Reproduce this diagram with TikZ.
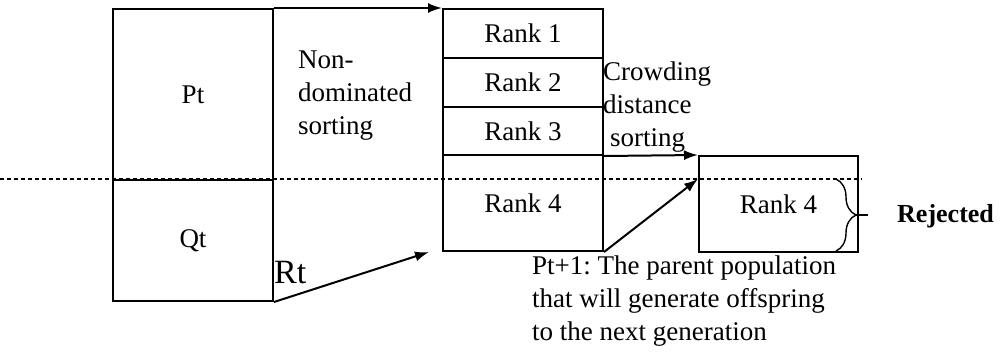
\documentclass[tikz,border=0pt]{standalone}
\usepackage{fontspec}
\setmainfont{Liberation Serif}
\usetikzlibrary{arrows.meta,decorations.pathreplacing}
\frenchspacing
\begin{document}
\begin{tikzpicture}[x=1pt,y=-1pt,
  box/.style={draw,line width=2pt,inner sep=0pt,anchor=north west,font=\fontsize{27}{33}\selectfont},
  lbl/.style={inner sep=0pt,anchor=base west,align=left,font=\fontsize{27}{33}\selectfont},
  conn/.style={line width=2pt,-{Latex[length=14pt,width=10pt]}},
  dotline/.style={line width=1.4pt,dash pattern=on 3.5pt off 3.5pt}]
\useasboundingbox (0,0) rectangle (1007,354);
% dotted separation line
\draw[dotline] (0,179) -- (862,179);
% R_t = P_t + Q_t
\node[box,minimum width=160pt,minimum height=171pt] (P) at (112,8) {Pt};
\node[box,minimum width=160pt,minimum height=121pt] (Q) at (112,179) {Qt};
% ranks
\node[box,minimum width=160pt,minimum height=49pt] (R1) at (442,8) {Rank 1};
\node[box,minimum width=160pt,minimum height=49pt] (R2) at (442,57) {Rank 2};
\node[box,minimum width=160pt,minimum height=48pt] (R3) at (442,106) {Rank 3};
\node[box,minimum width=160pt,minimum height=96pt] (R4) at (442,154) {Rank 4};
% next population part
\node[box,minimum width=159pt,minimum height=96pt] (R4b) at (698,155) {Rank 4};
% coordinates
\coordinate (rtend) at (429,252);
\coordinate (cut) at (698,179);
% connectors
\draw[conn] (P.north east) -- (R1.north west);
\draw[conn] (Q.south east) -- (rtend);
\draw[conn] (R3.south east) -- (R4b.north west);
\draw[conn] (R4.south east) -- (cut);
% brace
\draw[line width=1.4pt,decorate,decoration={brace,amplitude=20pt,aspect=0.5}] (836,179) -- (836,251);
\coordinate (btip) at (856,215);
\coordinate (bend) at (868,215);
\draw[line width=1.4pt] (btip) -- (bend);
% labels
\node[lbl] (nds) at (298,134) {Non-\\dominated\\sorting};
\node[lbl] (cds) at (603,146) {Crowding\\distance\\\hspace{7pt}sorting};
\node[inner sep=0pt,anchor=base west,font=\fontsize{34}{40}\selectfont] (rt) at (274,283) {Rt};
\node[lbl] (cap) at (532,340) {Pt+1: The parent population\\that will generate offspring\\to the next generation};
\node[inner sep=0pt,anchor=base west,font=\fontsize{26}{30}\selectfont\bfseries] (rej) at (897,222) {Rejected};
\end{tikzpicture}
\end{document}
